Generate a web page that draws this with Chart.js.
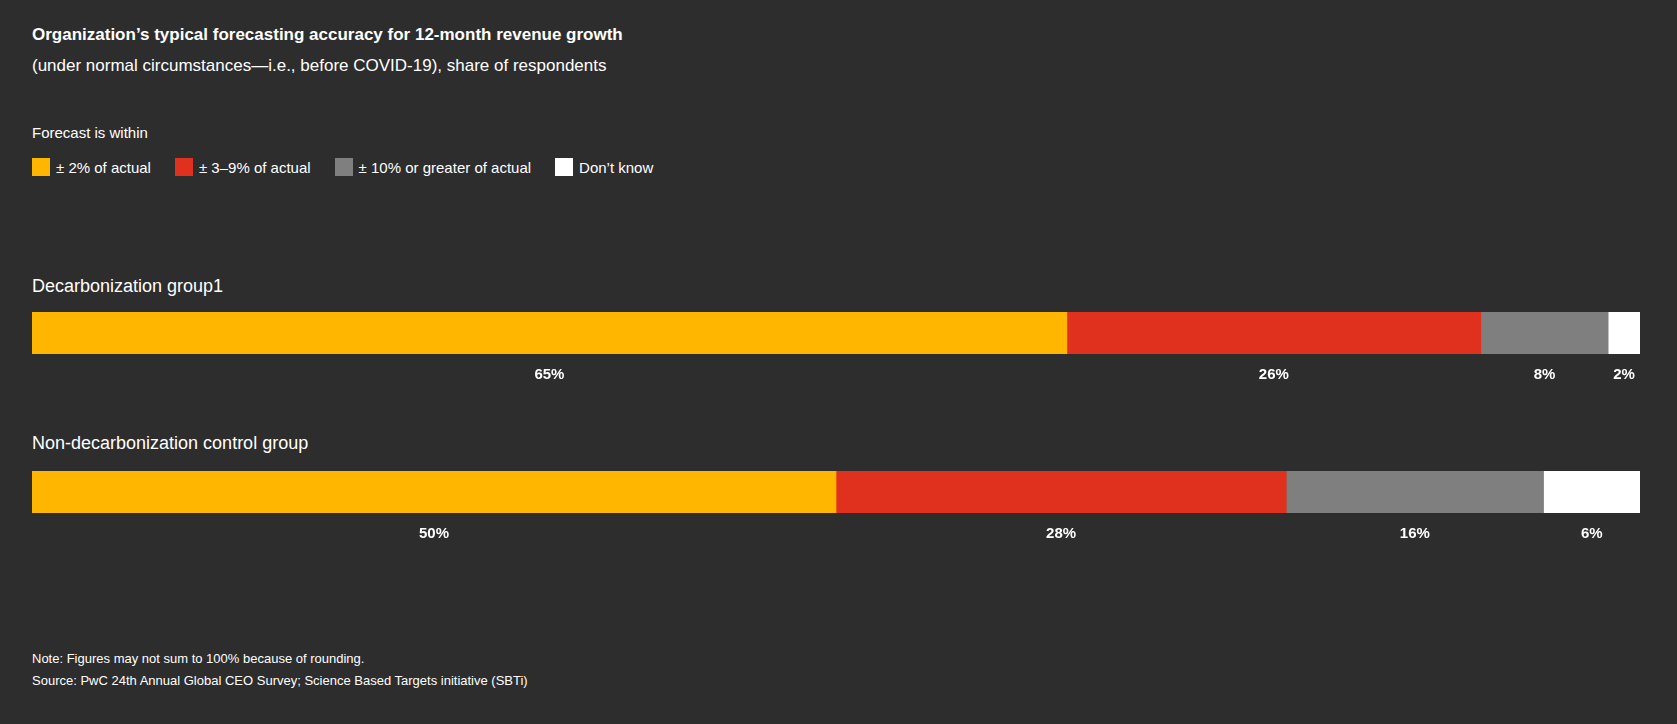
<!DOCTYPE html>
<html><head><meta charset="utf-8">
<script src="https://cdn.jsdelivr.net/npm/chart.js@4"></script>
<style>
body{margin:0;width:1677px;height:724px;background:#2d2d2d;font-family:"Liberation Sans",Arial,sans-serif;color:#fff;position:relative;overflow:hidden}
.t{position:absolute;left:32px;white-space:nowrap}
.box{position:absolute;left:32px;width:1608px;height:80px}
.lg{display:inline-flex;align-items:center;margin-right:24px}
.lg i{display:inline-block;width:18px;height:18px;margin-right:6px}
</style></head><body>
<div class="t" style="top:25px;font-size:17px;font-weight:bold">Organization’s typical forecasting accuracy for 12-month revenue growth</div>
<div class="t" style="top:56px;font-size:17px">(under normal circumstances—i.e., before COVID-19), share of respondents</div>
<div class="t" style="top:124px;font-size:15px">Forecast is within</div>
<div class="t" id="legend" style="top:158px;font-size:15px"></div>
<div class="t" style="top:276px;font-size:18px">Decarbonization group1</div>
<div class="box" style="top:312px"><canvas id="c1"></canvas></div>
<div class="t" style="top:433px;font-size:18px">Non-decarbonization control group</div>
<div class="box" style="top:471px"><canvas id="c2"></canvas></div>
<div class="t" style="top:651px;font-size:13px">Note: Figures may not sum to 100% because of rounding.</div>
<div class="t" style="top:673px;font-size:13px">Source: PwC 24th Annual Global CEO Survey; Science Based Targets initiative (SBTi)</div>
<script>
const seriesNames = ['± 2% of actual', '± 3–9% of actual', '± 10% or greater of actual', 'Don’t know'];
const seriesColors = ['#ffb600', '#e0301e', '#7f7f7f', '#ffffff'];
const decarbValues = [65, 26, 8, 2];
const controlValues = [50, 28, 16, 6];

document.getElementById('legend').innerHTML = seriesNames.map((n, i) =>
    `<span class="lg"><i style="background:${seriesColors[i]}"></i>${n}</span>`).join('');

const labelsBelow = {
    id: 'labelsBelow',
    afterDatasetsDraw(chart) {
        const ctx = chart.ctx;
        ctx.save();
        ctx.fillStyle = '#fff';
        ctx.font = 'bold 15px "Liberation Sans", Arial, sans-serif';
        ctx.textAlign = 'center';
        ctx.textBaseline = 'middle';
        chart.data.datasets.forEach((ds, i) => {
            const bar = chart.getDatasetMeta(i).data[0];
            const x = (bar.base + bar.x) / 2;
            ctx.fillText(ds.data[0] + '%', x, bar.y + bar.height / 2 + 21);
        });
        ctx.restore();
    }
};

function drawRow(id, values) {
    const total = values.reduce((a, b) => a + b, 0);
    new Chart(document.getElementById(id), {
        type: 'bar',
        data: {
            labels: [''],
            datasets: values.map((v, i) => ({
                label: seriesNames[i],
                data: [v],
                backgroundColor: seriesColors[i],
                borderWidth: 0,
                barPercentage: 1,
                categoryPercentage: 1
            }))
        },
        options: {
            indexAxis: 'y',
            responsive: true,
            maintainAspectRatio: false,
            animation: false,
            layout: { padding: { bottom: 38 } },
            plugins: { legend: { display: false }, tooltip: { enabled: false } },
            scales: {
                x: { stacked: true, min: 0, max: total, display: false },
                y: { stacked: true, display: false }
            }
        },
        plugins: [labelsBelow]
    });
}

drawRow('c1', decarbValues);
drawRow('c2', controlValues);
</script>
</body></html>
